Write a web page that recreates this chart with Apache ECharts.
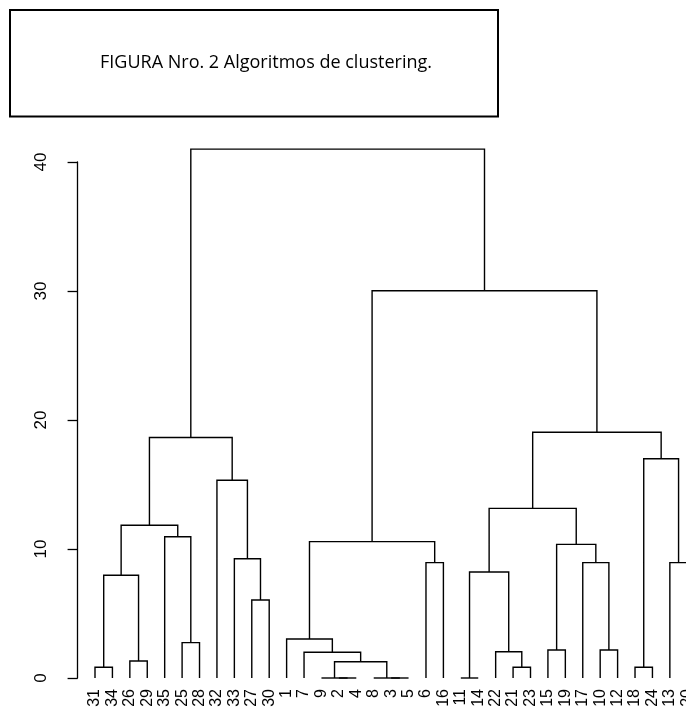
<!DOCTYPE html>
<html><head><meta charset="utf-8">
<script src="https://cdn.jsdelivr.net/npm/echarts@6/dist/echarts.min.js"></script>
<style>html,body{margin:0;padding:0;background:#fff}#c{width:686px;height:715px}</style>
</head><body><div id="c"></div>
<script>
// Leaf labels in dendrogram order (left to right)
const leafLabels = ['31','34','26','29','35','25','28','32','33','27','30','1','7','9','2','4','8','3','5','6','16','11','14','22','21','23','15','19','17','10','12','18','24','13','20'];
// Merge steps (R hclust convention: negative = observation label, positive = earlier merge step)
const mergeLeft  = [-2, -9, -3, -8, -11, -31, -21, -18, 2, -26, -7, -22, -15, -10, -25, -1, -27, 6, 5, -6, -17, -13, -33, 13, 16, -35, 18, 19, -32, 8, 27, 28, 25, 31];
const mergeRight = [-4, 1, -5, 3, -14, -34, -23, -24, 4, -29, 9, 7, -19, -12, -28, 11, -30, 10, 12, -16, 14, -20, 17, 21, 20, 15, 26, 24, 23, 22, 29, 30, 32, 33];
const mergeHeight = [0, 0, 0, 0, 0, 0.83, 0.83, 0.83, 1.26, 1.32, 2.0, 2.04, 2.17, 2.17, 2.74, 3.02, 6.05, 7.96, 8.22, 8.94, 8.94, 8.94, 9.25, 10.36, 10.57, 10.95, 11.84, 13.15, 15.33, 17.0, 18.64, 19.05, 30.02, 41.0];
const yTicks = [0, 10, 20, 30, 40];
const titleText = 'FIGURA Nro. 2 Algoritmos de clustering.';

const leafPos = {};
leafLabels.forEach((l, i) => { leafPos[l] = i + 1; });
const nodeX = [], nodeH = [];
function childInfo(id) {
  if (id < 0) return [leafPos[String(-id)], 0];
  return [nodeX[id - 1], nodeH[id - 1]];
}
const segs = [];
for (let k = 0; k < mergeHeight.length; k++) {
  const [xl, hl] = childInfo(mergeLeft[k]);
  const [xr, hr] = childInfo(mergeRight[k]);
  nodeX.push((xl + xr) / 2);
  nodeH.push(mergeHeight[k]);
  segs.push([xl, hl, xr, hr, mergeHeight[k]]);
}

const chart = echarts.init(document.getElementById('c'), null, {renderer: 'canvas'});
const step = 17.42;
const gridLeft = 95 - step;
chart.setOption({
  animation: false,
  backgroundColor: '#fff',
  graphic: [
    {type: 'rect', shape: {x: 10, y: 10, width: 488, height: 106.5}, style: {fill: '#fff', stroke: '#000', lineWidth: 2}},
    {type: 'text', x: 266, y: 63, style: {text: titleText, fontSize: 18, fontFamily: 'Open Sans', fill: '#000', align: 'center', verticalAlign: 'middle'}}
  ],
  grid: {left: gridLeft, top: 162, bottom: 37, width: step * 36, outerBoundsMode: 'none', containLabel: false},
  xAxis: {
    type: 'value', min: 0, max: 36, interval: 1,
    axisLine: {show: false}, axisTick: {show: false}, splitLine: {show: false},
    axisLabel: {
      rotate: 90, margin: 11, fontSize: 16, fontFamily: 'Liberation Sans', color: '#000',
      showMinLabel: true, showMaxLabel: true,
      formatter: v => leafLabels[Math.round(v) - 1] || ''
    }
  },
  yAxis: {
    type: 'value', min: yTicks[0], max: yTicks[yTicks.length - 1], interval: 10, offset: gridLeft - 70,
    axisLine: {show: true, lineStyle: {color: '#000', width: 1.3}},
    axisTick: {show: true, length: 10, lineStyle: {color: '#000', width: 1.3}},
    splitLine: {show: false},
    axisLabel: {rotate: 90, margin: 20, fontSize: 17, fontFamily: 'Liberation Sans', color: '#000',
      formatter: v => yTicks.indexOf(v) >= 0 ? String(v) : ''}
  },
  series: [{
    type: 'custom', clip: false,
    encode: {x: [0, 2], y: [1, 4]},
    data: segs,
    renderItem: function (params, api) {
      const p1 = api.coord([api.value(0), api.value(1)]);
      const p2 = api.coord([api.value(0), api.value(4)]);
      const p3 = api.coord([api.value(2), api.value(4)]);
      const p4 = api.coord([api.value(2), api.value(3)]);
      return {type: 'polyline', shape: {points: [p1, p2, p3, p4]}, style: {stroke: '#000', lineWidth: 1.4, fill: null}};
    }
  }]
});
</script></body></html>
